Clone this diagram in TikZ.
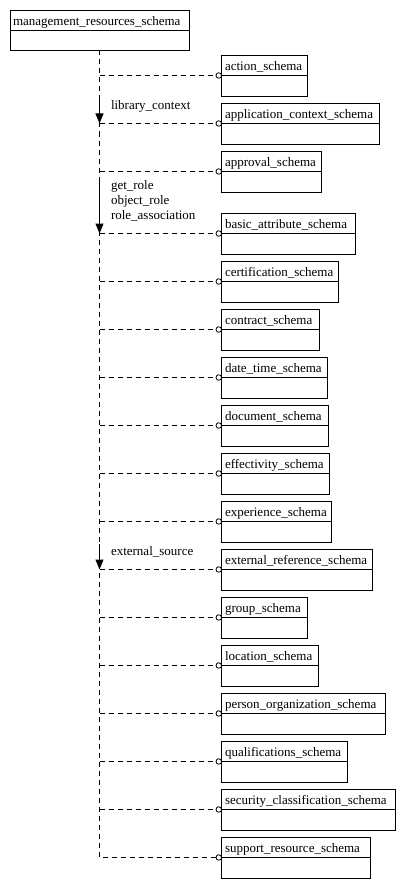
\documentclass[tikz,border=0pt]{standalone}
\usepackage{fontspec}
\setmainfont{Liberation Serif}
\usetikzlibrary{arrows.meta}
\begin{document}
\begin{tikzpicture}[x=1pt,y=-1pt,line width=1pt,
  box/.style={draw,rectangle,inner sep=0pt,outer sep=0pt,anchor=north west,minimum height=41pt},
  lbl/.style={inner sep=0pt,anchor=base west,font=\fontsize{13}{15}\selectfont},
  dsh/.style={dash pattern=on 5pt off 4pt},
  port/.style={circle,draw,fill=white,inner sep=0pt,outer sep=0pt,minimum size=5.5pt,line width=0.8pt},
  flow/.style={-{Triangle[length=10pt,width=8pt]},line width=1pt}]
\useasboundingbox (0,0) rectangle (405,888);
% main schema
\node[box,minimum width=179pt,minimum height=40pt] (main) at (10.5,10.5) {};
\draw ([yshift=-20pt]main.north west) -- ([yshift=-20pt]main.north east);
\node[lbl] (mainlbl) at ([xshift=2pt,yshift=-15.5pt]main.north west) {management\_resources\_schema};
\coordinate (v0) at (99.5,50.5);
% referenced schemas
\foreach \i/\t/\r/\txt in {
  1/55/307/action\_schema,
  2/103/379/application\_context\_schema,
  3/151/321/approval\_schema,
  4/213/355/basic\_attribute\_schema,
  5/261/338/certification\_schema,
  6/309/319/contract\_schema,
  7/357/327/date\_time\_schema,
  8/405/328/document\_schema,
  9/453/329/effectivity\_schema,
  10/501/331/experience\_schema,
  11/549/372/external\_reference\_schema,
  12/597/307/group\_schema,
  13/645/318/location\_schema,
  14/693/385/person\_organization\_schema,
  15/741/347/qualifications\_schema,
  16/789/395/security\_classification\_schema,
  17/837/370/support\_resource\_schema}{
  \pgfmathsetmacro{\w}{\r-221}
  \node[box,minimum width=\w pt] (s\i) at (221.5,\t+0.5) {};
  \draw ([yshift=-20pt]s\i.north west) -- ([yshift=-20pt]s\i.north east);
  \node[lbl] (t\i) at ([xshift=3pt,yshift=-15pt]s\i.north west) {\txt};
  \node[port,anchor=east] (p\i) at ([yshift=-20pt]s\i.north west) {};
  \coordinate (c\i) at (99.5,\t+20.5);
}
% connectors
\draw[dsh] (v0) -- (c17) -- (p17.west);
\foreach \i in {1,...,16}{\draw[dsh] (c\i) -- (p\i.west);}
% interface arrows with labels
\coordinate (a1) at (99.5,98);
\draw[flow] (a1) -- (c2);
\node[lbl] (l1) at (110.5,109.5) {library\_context};
\coordinate (a2) at (99.5,178);
\draw[flow] (a2) -- (c4);
\node[lbl,align=left] (l2) at (110.5,219.5) {get\_role\\object\_role\\role\_association};
\coordinate (a3) at (99.5,544);
\draw[flow] (a3) -- (c11);
\node[lbl] (l3) at (110.5,555.5) {external\_source};
\end{tikzpicture}
\end{document}
